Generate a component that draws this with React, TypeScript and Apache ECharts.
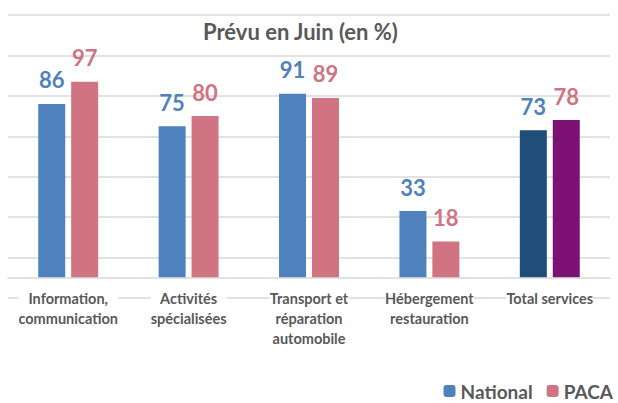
import React, { useEffect, useRef } from "react";
import * as echarts from "echarts";

const categories = [
  "Information,\ncommunication",
  "Activités\nspécialisées",
  "Transport et\nréparation\nautomobile",
  "Hébergement\nrestauration",
  "Total services",
];
const nationalValues = [86, 75, 91, 33, 73];
const pacaValues = [97, 80, 89, 18, 78];
const seriesNames = ["National", "PACA"];
const titleText = "Prévu en Juin (en %)";

const BLUE = "#4F81BD";
const PINK = "#D07383";
const DARK_BLUE = "#1F4E79";
const PURPLE = "#7B1173";
const GRAY = "#595959";
const FONT = "Lato, 'Open Sans', sans-serif";

export default function App() {
  const ref = useRef<HTMLDivElement>(null);
  useEffect(() => {
    if (!ref.current) return;
    const chart = echarts.init(ref.current, null, { renderer: "svg" });
    const last = categories.length - 1;
    chart.setOption({
      animation: false,
      textStyle: { fontFamily: FONT },
      title: {
        text: titleText,
        left: 198,
        top: 15,
        textStyle: { fontSize: 22, fontWeight: "bold", color: GRAY, fontFamily: FONT },
      },
      legend: {
        right: 0,
        top: 376,
        itemWidth: 12,
        itemHeight: 12,
        itemGap: 14,
        data: seriesNames,
        textStyle: { fontSize: 19, lineHeight: 20, fontWeight: "bold", color: GRAY, fontFamily: FONT },
      },
      grid: { left: 8, right: 8, top: 15, bottom: 105, containLabel: false },
      xAxis: {
        type: "category",
        data: categories,
        z: 5,
        axisLine: { onZero: true, lineStyle: { color: "#D9D9D9", width: 1.5 } },
        axisTick: { show: false },
        axisLabel: {
          interval: 0,
          margin: -10,
          fontSize: 14.5,
          fontWeight: "bold",
          lineHeight: 20,
          color: GRAY,
          fontFamily: FONT,
          backgroundColor: "#fff",
        },
      },
      yAxis: {
        type: "value",
        min: -10,
        max: 130,
        interval: 20,
        axisLabel: { show: false },
        axisLine: { show: false },
        axisTick: { show: false },
        splitLine: { lineStyle: { color: "#D9D9D9", width: 1.5 } },
      },
      series: [
        {
          name: seriesNames[0],
          type: "bar",
          barWidth: 27,
          barGap: "22%",
          itemStyle: { color: BLUE },
          data: nationalValues.map((v, i) =>
            i === last ? { value: v, itemStyle: { color: DARK_BLUE } } : v
          ),
          label: {
            show: true,
            position: "top",
            distance: 13,
            fontSize: 22,
            fontWeight: "bold",
            color: BLUE,
            fontFamily: FONT,
          },
        },
        {
          name: seriesNames[1],
          type: "bar",
          barWidth: 27,
          barGap: "22%",
          itemStyle: { color: PINK },
          data: pacaValues.map((v, i) =>
            i === last ? { value: v, itemStyle: { color: PURPLE } } : v
          ),
          label: {
            show: true,
            position: "top",
            distance: 13,
            fontSize: 22,
            fontWeight: "bold",
            color: PINK,
            fontFamily: FONT,
          },
        },
      ],
    });
    return () => chart.dispose();
  }, []);
  return (
    <div
      ref={ref}
      style={{ position: "fixed", left: 0, top: 0, width: 618, height: 403, background: "#fff" }}
    />
  );
}
